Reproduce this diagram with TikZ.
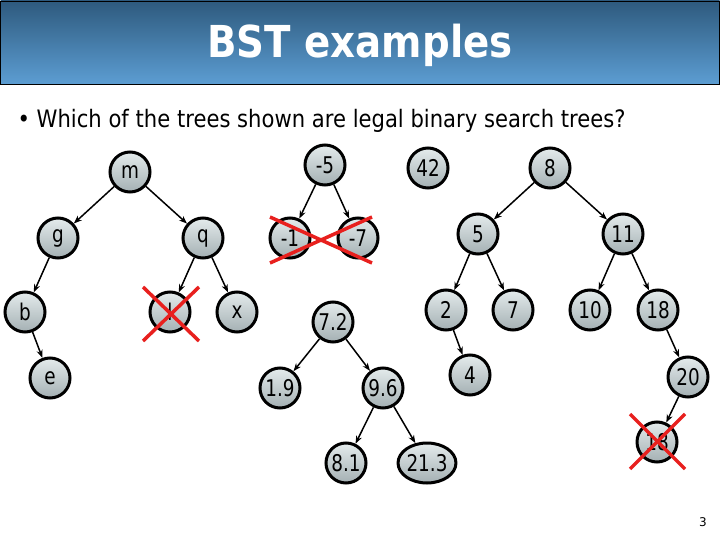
\documentclass[tikz,border=0pt]{standalone}
\usepackage{fontspec}
\setmainfont{DejaVu Sans}
\usetikzlibrary{arrows.meta,shapes.geometric}
\definecolor{bartop}{HTML}{2E5A7E}
\definecolor{barbot}{HTML}{5C9DD2}
\definecolor{nodetop}{HTML}{E4EBEC}
\definecolor{nodebot}{HTML}{A4B0B3}
\definecolor{xred}{HTML}{E8201E}
\tikzset{
  tn/.style={circle,draw=black,line width=3pt,top color=nodetop,bottom color=nodebot,
    minimum size=40pt,inner sep=0pt,font=\fontsize{23}{23}\selectfont\addfontfeatures{FakeStretch=0.8}},
  tw/.style={tn,ellipse,minimum width=50pt,minimum height=40pt},
  ed/.style={-{Stealth[length=8pt,width=6pt]},line width=1.5pt},
  xc/.style={xred,line width=3.5pt}
}
\begin{document}
\begin{tikzpicture}[x=1pt,y=-1pt]
\useasboundingbox (0,0) rectangle (720,540);
\fill[white] (0,0) rectangle (720,540);
\shade[top color=bartop,bottom color=barbot,draw=black,line width=0.8pt] (0.5,1) rectangle (719.5,84);
\node[text=white,font=\fontsize{44}{44}\selectfont\bfseries\addfontfeatures{FakeStretch=0.88}] (title) at (360,45) {BST examples};
\node[anchor=west,font=\fontsize{24}{24}\selectfont\addfontfeatures{FakeStretch=0.88}] (q1) at (14,121) {\textbullet\ Which of the trees shown are legal binary search trees?};
\node[font=\fontsize{12}{12}\selectfont] (pg) at (703,522) {3};
% tree 1
\node[tn] (m) at (130,172) {m};
\node[tn] (g) at (58,238) {g};
\node[tn] (q) at (203,238) {q};
\node[tn] (b) at (25,312) {b};
\node[tn] (l) at (170,312) {l};
\node[tn] (x) at (237,312) {x};
\node[tn] (e) at (50,378) {e};
\draw[ed] (m) -- (g); \draw[ed] (m) -- (q);
\draw[ed] (g) -- (b); \draw[ed] (b) -- (e);
\draw[ed] (q) -- (l); \draw[ed] (q) -- (x);
% tree 2
\node[tn] (n5) at (325,165) {-5};
\node[tn] (n1) at (290,238) {-1};
\node[tn] (n7) at (358,238) {-7};
\draw[ed] (n5) -- (n1); \draw[ed] (n5) -- (n7);
% tree 3
\node[tn] (a42) at (428,168) {42};
% tree 4
\node[tn] (a8) at (550,168) {8};
\node[tn] (a5) at (478,234) {5};
\node[tn] (a11) at (623,234) {11};
\node[tn] (a2) at (446,310) {2};
\node[tn] (a7) at (513,310) {7};
\node[tn] (a10) at (590,310) {10};
\node[tn] (a18) at (658,310) {18};
\node[tn] (a4) at (470,375) {4};
\node[tn] (a20) at (688,377) {20};
\node[tn] (a18b) at (657,442) {18};
\draw[ed] (a8) -- (a5); \draw[ed] (a8) -- (a11);
\draw[ed] (a5) -- (a2); \draw[ed] (a5) -- (a7);
\draw[ed] (a2) -- (a4);
\draw[ed] (a11) -- (a10); \draw[ed] (a11) -- (a18);
\draw[ed] (a18) -- (a20); \draw[ed] (a20) -- (a18b);
% tree 5
\node[tn] (b72) at (333,322) {7.2};
\node[tn] (b19) at (280,388) {1.9};
\node[tn] (b96) at (383,388) {9.6};
\node[tn] (b81) at (346,463) {8.1};
\node[tw] (b213) at (427,463) {21.3};
\draw[ed] (b72) -- (b19); \draw[ed] (b72) -- (b96);
\draw[ed] (b96) -- (b81); \draw[ed] (b96) -- (b213);
% crosses
\coordinate (c1a) at (143,287); \coordinate (c1b) at (199,341);
\coordinate (c1c) at (143,341); \coordinate (c1d) at (199,287);
\draw[xc] (c1a) -- (c1b); \draw[xc] (c1c) -- (c1d);
\coordinate (c2a) at (270,217); \coordinate (c2b) at (372,263);
\coordinate (c2c) at (270,263); \coordinate (c2d) at (372,217);
\draw[xc] (c2a) -- (c2b); \draw[xc] (c2c) -- (c2d);
\coordinate (c3a) at (630,414); \coordinate (c3b) at (685,469);
\coordinate (c3c) at (630,469); \coordinate (c3d) at (685,414);
\draw[xc] (c3a) -- (c3b); \draw[xc] (c3c) -- (c3d);
\end{tikzpicture}
\end{document}
